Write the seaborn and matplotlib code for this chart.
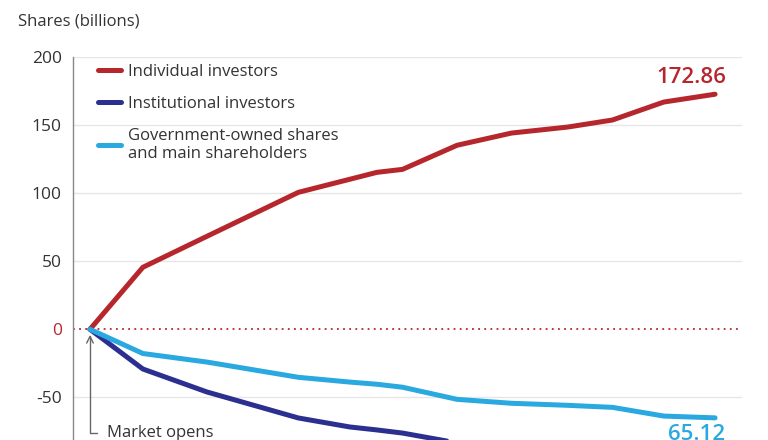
import pandas as pd
import matplotlib
matplotlib.use("Agg")
import matplotlib.pyplot as plt
import seaborn as sns

# ---------------------------------------------------------------------------
# data: net buying by investor type, minutes after market open
# ---------------------------------------------------------------------------
minutes = [0, 33, 73, 130, 162, 179, 195, 229, 263, 298, 326, 358, 390]
individual = [0, 45.6, 68.4, 100.7, 110.3, 115.4, 117.6, 135.3, 144.3, 148.7, 153.9, 167.1, 172.86]
institutional = [0, -29.2, -46.1, -65.2, -71.8, -74.0, -76.3, -83.5, -89.0, -94.0, -98.0, -104.0, -107.74]
government = [0, -17.8, -24.1, -35.3, -38.8, -40.4, -42.6, -51.5, -54.4, -55.9, -57.4, -63.8, -65.12]

series_names = ["Individual investors", "Institutional investors",
                "Government-owned shares\nand main shareholders"]
yticks = [200, 150, 100, 50, 0, -50]

RED = "#b5272d"
NAVY = "#2b2f8f"
SKY = "#29a9e0"
TXT = "#333333"

df = pd.DataFrame({
    "minute": minutes * 3,
    "shares": individual + institutional + government,
    "group": [series_names[0]] * len(minutes)
             + [series_names[1]] * len(minutes)
             + [series_names[2]] * len(minutes),
})

sns.set_theme(style="white")
plt.rcParams["font.family"] = ["Open Sans", "DejaVu Sans"]

fig = plt.figure(figsize=(7.68, 4.4), dpi=100)
ax = fig.add_axes([73 / 768, 0.0, 669 / 768, 1 - 57.3 / 440])

# grid lines (not at zero; zero gets the red dotted line)
for t in yticks:
    if t != 0:
        ax.axhline(t, color="#e6e6e6", lw=1.0, zorder=0)
ax.axhline(0, color=RED, lw=1.3, linestyle=(0, (1, 2.4)), zorder=1)

sns.lineplot(data=df, x="minute", y="shares", hue="group",
             palette=[RED, NAVY, SKY], hue_order=series_names,
             linewidth=3.6, solid_capstyle="round", ax=ax, zorder=3)

ax.set_xlim(-10.6, 406.8)
ax.set_ylim(-81.4, 200)
ax.set_xticks([])
ax.set_yticks(yticks)
ax.set_yticklabels([str(t) for t in yticks], fontsize=12.5, color=TXT)
ax.get_yticklabels()[yticks.index(0)].set_color(RED)
ax.tick_params(axis="y", length=0, pad=8)
ax.set_xlabel("")
ax.set_ylabel("")
for s in ["top", "right", "bottom"]:
    ax.spines[s].set_visible(False)
ax.spines["left"].set_color("#888888")
ax.spines["left"].set_linewidth(1.0)

leg = ax.legend(loc="upper left", bbox_to_anchor=(0.015, 1.022), frameon=False,
                fontsize=12, handlelength=1.4, handletextpad=0.4,
                labelspacing=0.95, title=None)
for t in leg.get_texts():
    t.set_color(TXT)

# end labels
ax.annotate(f"{individual[-1]:.2f}", xy=(minutes[-1], individual[-1]),
            xytext=(-17, 12), textcoords="offset points",
            ha="center", va="center", fontsize=16, fontweight="semibold",
            color=RED, annotation_clip=False)
ax.annotate(f"{abs(government[-1]):.2f}", xy=(minutes[-1], government[-1]),
            xytext=(-13, -12), textcoords="offset points",
            ha="center", va="center", fontsize=16, fontweight="semibold",
            color=SKY, annotation_clip=False)

# market open marker
ax.annotate("Market opens", xy=(minutes[0], 0), xytext=(10.6, -76),
            ha="left", va="center", fontsize=12, color=TXT,
            arrowprops=dict(arrowstyle="->", color="#666666", lw=1.0,
                            connectionstyle="angle,angleA=0,angleB=90,rad=0",
                            relpos=(0, 0.5), shrinkA=5, shrinkB=4),
            annotation_clip=False)

fig.text(18 / 768, 1 - 22 / 440, "Shares (billions)", fontsize=12,
         color=TXT, ha="left", va="center")

fig.savefig("out.png", dpi=100)
